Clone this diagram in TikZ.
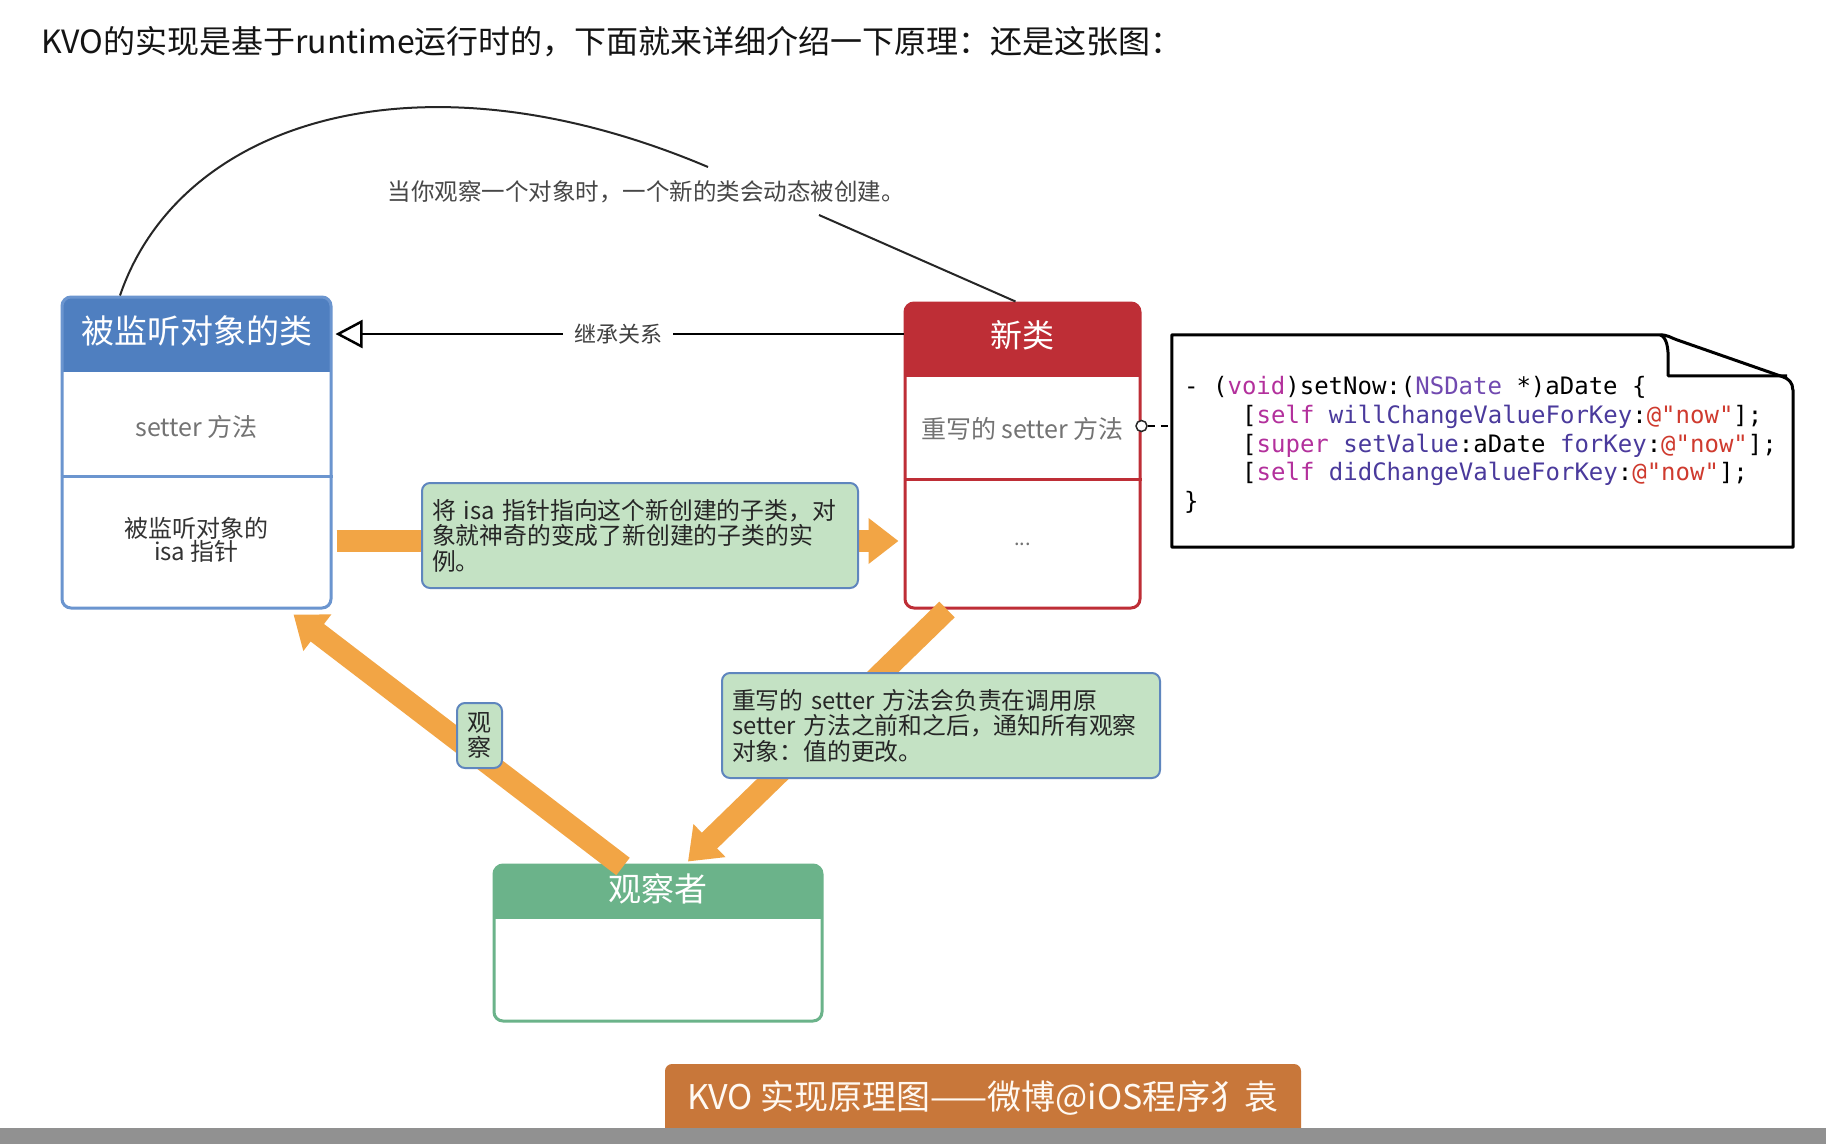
\documentclass[tikz,border=0pt]{standalone}
\usepackage{fontspec}
\setmainfont{Noto Sans CJK SC}
\newfontfamily\codefont{DejaVu Sans Mono}
\usetikzlibrary{arrows.meta}
\definecolor{hdblue}{HTML}{4F7FC0}
\definecolor{lnblue}{HTML}{6B95CF}
\definecolor{hdred}{HTML}{BE2E36}
\definecolor{hdgreen}{HTML}{6BB38A}
\definecolor{fat}{HTML}{F2A545}
\definecolor{notefill}{HTML}{C4E2C4}
\definecolor{noteline}{HTML}{5F86BE}
\definecolor{banner}{HTML}{C8773A}
\definecolor{kw}{HTML}{B3309C}
\definecolor{cls}{HTML}{7149B0}
\definecolor{meth}{HTML}{4A3A9C}
\definecolor{str}{HTML}{CF3A2E}
\newcommand\ind{\hspace*{58pt}}
\begin{document}
\begin{tikzpicture}[x=1pt,y=-1pt,
	classbox/.style n args={3}{draw=#2,fill=white,line width=3pt,rounded corners=9pt,inner sep=0pt,
		path picture={\fill[#1,sharp corners] (path picture bounding box.north west) rectangle ([yshift=-#3]path picture bounding box.north east);}},
	hdtext/.style={text=white,font=\fontsize{33}{36}\selectfont},
	rowtext/.style={text=black!55,font=\fontsize{25}{28}\selectfont},
	note/.style={draw=noteline,fill=notefill,line width=2pt,rounded corners=8pt},
	notetext/.style={note,inner sep=10pt,text width=416pt,minimum height=105pt,align=left,text=black!85,font=\fontsize{23.8}{25.5}\selectfont},
	fatarrow/.style={draw=fat,line width=22pt,-{Triangle[length=30pt,width=44pt]}}]
	\fill[white] (0,0) rectangle (1826,1144);
	\useasboundingbox (0,0) rectangle (1826,1144);
	\node[anchor=west,inner sep=0pt,text=black!92,font=\fontsize{32}{36}\selectfont] (title) at (41,42) {KVO的实现是基于runtime运行时的，下面就来详细介绍一下原理：还是这张图：};
	
	\node[classbox={hdblue}{lnblue}{75pt},minimum width=269pt,minimum height=311pt] (watched) at (196.5,452.5) {};
	\node[hdtext] at ([yshift=-35pt]watched.north) {被监听对象的类};
	\draw[lnblue,line width=3pt] ([yshift=-181pt]watched.north west) -- ([yshift=-181pt]watched.north east);
	\node[rowtext] at ([yshift=-131pt]watched.north) {setter 方法};
	\node[align=center,text=black!80,font=\fontsize{24}{23}\selectfont] at ([yshift=-244pt]watched.north) {被监听对象的\\isa 指针};
	
	\node[classbox={hdred}{hdred}{74pt},minimum width=235pt,minimum height=305pt] (newcls) at (1022.5,455.5) {};
	\node[hdtext,font=\fontsize{32}{36}\selectfont] at ([yshift=-34pt]newcls.north) {新类};
	\draw[hdred,line width=3pt] ([yshift=-178pt]newcls.north west) -- ([yshift=-178pt]newcls.north east);
	\node[rowtext] at ([yshift=-127pt]newcls.north) {重写的 setter 方法};
	\node[rowtext,font=\fontsize{20}{24}\selectfont] at ([yshift=-243pt]newcls.north) {...};
	
	\node[classbox={hdgreen}{hdgreen}{54pt},minimum width=328pt,minimum height=156pt] (observer) at (658,943) {};
	\node[hdtext] at ([yshift=-25pt]observer.north) {观察者};
	
	\node[minimum width=621pt,minimum height=212pt,inner sep=0pt] (codebox) at (1482.5,441) {};
	\draw[line width=3pt,line join=round] (codebox.north east) ++(0,55) -- (codebox.south east) -- (codebox.south west) -- (codebox.north west) -- ++(488,0)
		.. controls ++(8,0) and ++(-6,-2) .. ++(17,5) -- ++(106,37) .. controls ++(6,2) and ++(0,-7) .. ++(10,13);
	\draw[line width=3pt,line join=round] ([xshift=-133pt]codebox.north east) .. controls ++(7,3) and ++(0,-10) .. ++(8,24) -- ++(0,17) -- ++(119,0);
	\node[anchor=west,inner sep=0pt,align=left,font=\codefont\fontsize{24}{28.7}\selectfont] (code) at (1184,445) {%
		- (\textcolor{kw}{void})setNow:(\textcolor{cls}{NSDate} *)aDate \{\\
		\ind[\textcolor{kw}{self} \textcolor{meth}{willChangeValueForKey}:\textcolor{str}{@"now"}];\\
		\ind[\textcolor{kw}{super} \textcolor{meth}{setValue}:aDate \textcolor{meth}{forKey}:\textcolor{str}{@"now"}];\\
		\ind[\textcolor{kw}{self} \textcolor{meth}{didChangeValueForKey}:\textcolor{str}{@"now"}];\\
		\}};
	\node[circle,draw=black!85,fill=white,line width=1.5pt,inner sep=0pt,minimum size=11pt] (dot) at ([yshift=29.5pt]newcls.east) {};
	\draw[dashed,line width=1.5pt,dash pattern=on 7pt off 6pt] (dot.east) -- (dot.east -| codebox.west);
	
	\node[text=black!72,font=\fontsize{23.5}{26}\selectfont] (cmt) at (646,192) {当你观察一个对象时，一个新的类会动态被创建。};
	\coordinate (cmtin) at ([xshift=62pt,yshift=25pt]cmt.center);
	\coordinate (cmtout) at ([xshift=173pt,yshift=-23pt]cmt.center);
	\draw[line width=2pt,black!85] ([xshift=-76.5pt]watched.north) .. controls (180,120) and (420,45) .. (cmtin);
	\draw[line width=2pt,black!85] (cmtout) -- ([xshift=-7pt]newcls.north);
	
	\coordinate (inh) at ([yshift=121.5pt]newcls.west);
	\draw[line width=2.5pt,-{Triangle[open,length=27pt,width=28pt,line width=2.5pt]},shorten >=3pt] (inh) -- (inh -| watched.east)
		node[midway,fill=white,inner xsep=11pt,text=black!75,font=\fontsize{22}{24}\selectfont] {继承关系};
	
	\coordinate (isa) at ([yshift=-88.5pt]watched.east);
	\draw[fatarrow,shorten <=4pt,shorten >=5pt] (isa) -- (isa -| newcls.west);
	\draw[fatarrow] ([xshift=-35pt,yshift=-3pt]observer.north) -- ([xshift=-39pt,yshift=-5pt]watched.south east);
	\draw[fatarrow] ([xshift=-75.5pt]newcls.south) -- ([xshift=30pt,yshift=2pt]observer.north);
	
	\node[notetext] (note1) at (640,535.5) {将 isa 指针指向这个新创建的子类，对\\象就神奇的变成了新创建的子类的实\\例。};
	\node[notetext,text width=418pt] (note2) at (941,725.5) {重写的 setter 方法会负责在调用原\\setter 方法之前和之后，通知所有观察\\对象：值的更改。};
	\node[note,minimum width=45pt,minimum height=65pt,inner sep=0pt,align=center,text=black!85,font=\fontsize{24}{25}\selectfont] (watch) at (479.5,735.5) {观\\察};
	
	\node[fill=banner,rounded corners=7pt,minimum width=636pt,minimum height=72pt,inner sep=0pt] (credit) at (983,1100) {};
	\node[text=white!95!orange,font=\fontsize{34}{38}\selectfont] at ([yshift=2pt]credit.center) {KVO 实现原理图——微博@iOS程序犭袁};
	\fill[black!43] (0,1128) rectangle (1826,1144);
\end{tikzpicture}
\end{document}
